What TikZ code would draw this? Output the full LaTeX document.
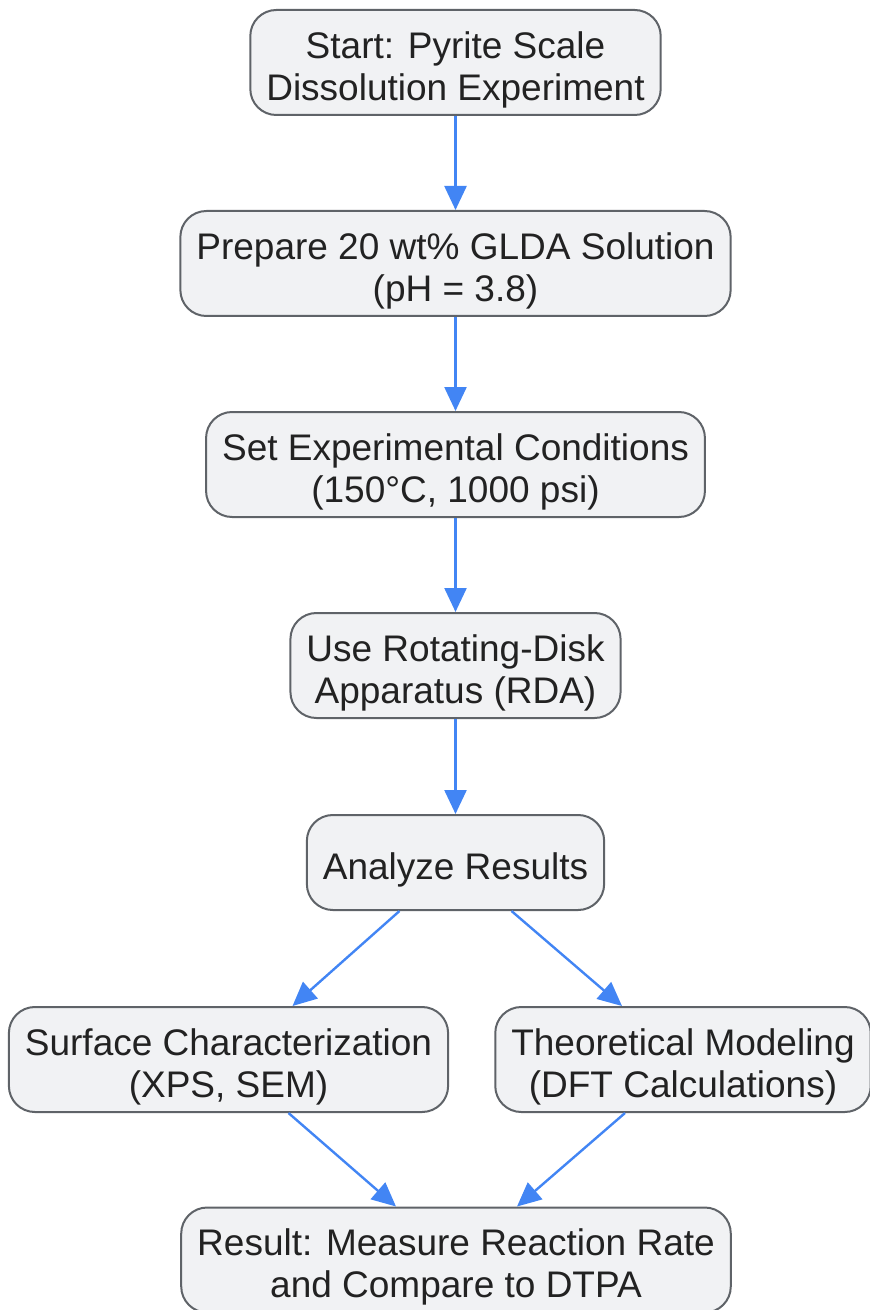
\documentclass[tikz,border=0pt]{standalone}
\usepackage{fontspec}
\setmainfont{Liberation Sans}
\usetikzlibrary{arrows.meta}
\definecolor{boxfill}{HTML}{F1F2F4}
\definecolor{boxline}{HTML}{5F6368}
\definecolor{boxtext}{HTML}{222222}
\definecolor{flowblue}{HTML}{4285F4}
\newcommand{\tallstrut}{\rule{0pt}{20.8pt}}
\tikzset{
  stepbox/.style={draw=boxline, fill=boxfill, line width=1pt, rounded corners=13pt,
    align=center, inner xsep=8pt, minimum height=52.5pt, text=boxtext,
    font=\fontsize{18.5}{21}\selectfont},
  flow/.style={draw=flowblue, line width=1.2pt, -{Triangle[length=12pt,width=11pt]}}
}
\begin{document}
\begin{tikzpicture}[x=0.5pt,y=-0.5pt]
      \useasboundingbox (0,0) rectangle (870,1310);
      \draw
        (455.5,62.5) node[stepbox] (start){\tallstrut Start: Pyrite Scale\\Dissolution Experiment}
        (455.5,263.5) node[stepbox] (prep){\tallstrut Prepare 20 wt\% GLDA Solution\\(pH = 3.8)}
        (455.5,464.5) node[stepbox] (cond){\tallstrut Set Experimental Conditions\\(150°C, 1000 psi)}
        (455.5,665.5) node[stepbox] (rda){\tallstrut Use Rotating-Disk\\Apparatus (RDA)}
        (455.5,862.5) node[stepbox, minimum height=47.5pt] (analyze){\tallstrut Analyze Results}
        (228.5,1059.5) node[stepbox] (surf){\tallstrut Surface Characterization\\(XPS, SEM)}
        (683,1059.5) node[stepbox] (model){\tallstrut Theoretical Modeling\\(DFT Calculations)}
        (456,1260) node[stepbox] (result){\tallstrut Result: Measure Reaction Rate\\and Compare to DTPA};
      \begin{scope}[flow]
        \draw (start.south) to (prep.north);
        \draw (prep.south) to (cond.north);
        \draw (cond.south) to (rda.north);
        \draw (rda.south) to (analyze.north);
        \draw ([xshift=-28pt]analyze.south) to ([xshift=32pt]surf.north);
        \draw ([xshift=28pt]analyze.south) to ([xshift=-30.5pt]model.north);
        \draw ([xshift=30pt]surf.south) to ([xshift=-30pt]result.north);
        \draw ([xshift=-29pt]model.south) to ([xshift=30.5pt]result.north);
      \end{scope}
    \end{tikzpicture}
\end{document}
